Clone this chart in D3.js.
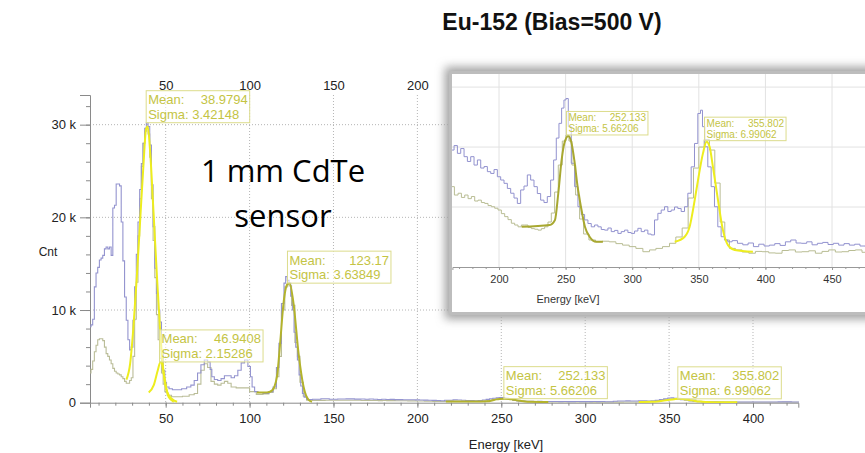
<!DOCTYPE html>
<html>
<head>
<meta charset="utf-8">
<script src="https://cdn.jsdelivr.net/npm/d3@7"></script>
<style>
  body { margin: 0; background: #fff; }
  svg { display: block; }
  text { font-family: "Liberation Sans", Arial, sans-serif; }
</style>
</head>
<body>
<svg width="865" height="453"></svg>
<script>
// spectrum with bias 500 V, [energy keV, counts]
var blueSpectrum = [
  [5, 8200], [6, 8400], [7, 9000], [8, 12500], [9, 14000], [10, 14600], [11, 15400], [12, 15600],
  [13, 15900], [14, 16600], [15, 16800], [16, 16600], [17, 16800], [18, 15900], [19, 21000], [20, 21300],
  [21, 23600], [22, 23600], [23, 23400], [24, 19500], [25, 15300], [26, 11400], [27, 8900], [28, 6800],
  [29, 5700], [30, 6000], [31, 8900], [32, 12500], [33, 16000], [34, 19500], [35, 23000], [36, 25800],
  [37, 28000], [38, 29600], [39, 30200], [40, 29800], [41, 27800], [42, 23500], [43, 19000], [44, 14500],
  [45, 11800], [46, 10000], [47, 8700], [48, 5500], [49, 3500], [50, 2200], [51, 1700], [53, 1500],
  [55, 1400], [58, 1400], [61, 1500], [64, 1700], [66, 1900], [68, 2400], [70, 3200], [72, 4100],
  [74, 4600], [76, 4400], [77, 3600], [78, 2800], [80, 2500], [82, 2400], [84, 2600], [86, 2900],
  [88, 2900], [90, 2700], [92, 2900], [94, 3500], [96, 4300], [98, 4600], [100, 3900], [101, 2800],
  [102, 1700], [104, 1200], [106, 1100], [110, 1000], [113, 1200], [115, 1700], [117, 3800], [118, 6400],
  [120, 10700], [121, 12900], [122, 13600], [123, 13200], [124, 12900], [125, 11500], [126, 10000], [127, 7600],
  [128, 6000], [129, 4600], [130, 3000], [131, 1800], [132, 1000], [133, 600], [135, 350], [140, 380],
  [145, 420], [150, 370], [155, 400], [160, 410], [165, 390], [167.5, 405], [170, 379], [172.5, 395],
  [175, 368], [177.5, 352], [180, 368], [182.5, 340], [185, 357], [187.5, 330], [190, 335], [192.5, 318],
  [195, 312], [197.5, 325], [200, 301], [202.5, 290], [205, 279], [207.5, 262], [210, 246], [212.5, 230],
  [215, 212], [217.5, 257], [220, 270], [222.5, 307], [225, 290], [227.5, 268], [230, 245], [232.5, 223],
  [235, 215], [237.5, 235], [240, 290], [242, 357], [244, 430], [246, 479], [248, 530], [249.5, 557],
  [251, 562], [253, 468], [255.5, 346], [258, 268], [260.5, 201], [263, 175], [265.5, 157], [268, 145],
  [270.5, 134], [273, 140], [275.5, 134], [278, 125], [280.5, 123], [283, 130], [285.5, 118], [288, 122],
  [290.5, 112], [293, 118], [295.5, 123], [298, 115], [300.5, 112], [303, 120], [305.5, 129], [308, 118],
  [310.5, 123], [313, 110], [315.5, 107], [318, 157], [320.5, 179], [323, 190], [325.5, 201], [328, 185],
  [330.5, 190], [333, 200], [335.5, 195], [338, 185], [340.5, 201], [343, 246], [345.5, 334], [348, 412],
  [350.5, 512], [352, 523], [353.5, 468], [355.5, 401], [358, 334], [360.5, 268], [363, 201], [365.5, 134],
  [368, 101], [370.5, 90], [373, 84], [377, 88], [381, 79], [385, 74], [389, 80], [393, 68],
  [397, 76], [401, 70], [405, 73], [409, 78], [413, 72], [417, 84], [421, 90], [425, 80],
  [429, 79], [433, 84], [437, 74], [441, 79], [445, 82], [449, 75], [453, 79], [457, 73],
  [461, 78], [465, 73], [469, 76], [473, 70], [477, 68], [481, 72], [485, 68]
];

// spectrum with bias 500 V, second run, [energy keV, counts]
var greenSpectrum = [
  [5, 3200], [6, 3600], [7, 4500], [8, 5500], [9, 6200], [10, 6800], [11, 6900], [12, 6900],
  [13, 6700], [14, 6000], [15, 5300], [16, 5000], [17, 4600], [18, 4200], [19, 3700], [20, 3400],
  [21, 3200], [22, 3100], [23, 3000], [24, 2800], [25, 2600], [26, 2300], [27, 2100], [28, 2100],
  [29, 2400], [30, 2700], [31, 5000], [32, 9000], [33, 13000], [34, 18000], [35, 22000], [36, 25500],
  [37, 28000], [38, 29300], [39, 29700], [40, 29000], [41, 26500], [42, 22000], [43, 17500], [44, 13500],
  [45, 9500], [46, 6800], [47, 4800], [48, 3200], [49, 2000], [50, 1200], [52, 800], [55, 650],
  [58, 650], [62, 700], [66, 850], [68, 1000], [70, 2000], [72, 3500], [74, 4200], [76, 3800],
  [78, 2300], [80, 2000], [82, 1900], [84, 2100], [86, 2300], [88, 2100], [90, 1700], [94, 1600],
  [98, 1600], [102, 1200], [106, 900], [110, 950], [113, 1100], [115, 1500], [117, 2800], [118, 5000],
  [120, 10000], [122, 12500], [123, 12800], [124, 12600], [126, 10500], [128, 6500], [129, 5000], [131, 2200],
  [133, 700], [135, 280], [140, 250], [150, 260], [160, 265], [165, 268], [168, 240], [170.5, 246],
  [173, 232], [175.5, 240], [178, 228], [180.5, 235], [183, 220], [185.5, 223], [188, 215], [190.5, 212],
  [193, 205], [195.5, 201], [198, 196], [200.5, 190], [203, 178], [205.5, 168], [208, 158], [210.5, 146],
  [213, 140], [215.5, 134], [218, 140], [220.5, 140], [223, 132], [225.5, 128], [228, 126], [230.5, 123],
  [233, 128], [235.5, 134], [238, 150], [240.5, 180], [243, 250], [246, 340], [249, 420], [251.5, 440],
  [253.5, 420], [256, 340], [259, 240], [262, 160], [265, 110], [270, 90], [275, 84], [280, 86],
  [285.5, 84], [290, 78], [295.5, 73], [300, 68], [305.5, 62], [310.5, 51], [315.5, 57], [320, 62],
  [325.5, 68], [330.5, 79], [335, 100], [340, 130], [344, 230], [348, 330], [352, 400], [356, 425],
  [360, 390], [364, 280], [368, 150], [371, 90], [375, 62], [380, 57], [385, 50], [390, 46],
  [395, 52], [400, 51], [405, 47], [410, 46], [415, 55], [420, 57], [425, 50], [430, 51],
  [435, 54], [440, 46], [445, 52], [450, 57], [455, 50], [460, 51], [465, 55], [470, 57],
  [475, 49], [480, 46], [485, 50]
];

// gaussian fits, [energy keV, counts]
var fit1 = [[26.6, 2500], [28.8, 4200], [30.8, 8200], [32.8, 13600], [34.8, 19700], [36.8, 25800], [38.3, 29500], [39.3, 29800],
  [40.8, 26900], [42.8, 20400], [44.8, 13600], [46.8, 7500], [48.8, 3200], [50.8, 1200], [53.8, 400], [56.8, 100]];
var fit2 = [[39.9, 1100], [42.9, 1900], [45.3, 3500], [46.9, 4400], [47.4, 4400], [48.8, 3200], [50.2, 1700], [51.8, 600], [54.8, 100]];
var fit3 = [[104.3, 1100], [110.3, 1100], [113.3, 1300], [116.3, 2800], [118.2, 6400], [120.2, 10700], [122.6, 12800], [123.8, 12900],
  [126.2, 10700], [129.2, 5300], [132.2, 1700], [135.2, 300], [137.2, 100]];
var fit4 = [[217, 134], [238, 140], [242, 157], [244.5, 246], [247, 357], [249, 412], [252, 437], [254.5, 412],
  [256.5, 357], [259, 268], [261.5, 201], [264.5, 134], [268, 101], [273, 84], [278, 84]];
var fit5 = [[331.9, 84], [339.4, 101], [343.1, 134], [346.9, 223], [349.4, 290], [353.1, 379], [355.8, 418], [358.1, 401],
  [360.6, 334], [364.4, 223], [368.1, 123], [371.9, 73], [376.9, 57], [390.6, 51]];

var fitMeans = ['38.9794', '46.9408', '123.17', '252.133', '355.802'];
var fitSigmas = ['3.42148', '2.15286', '3.63849', '5.66206', '6.99062'];
var fitPeaks = [32600, 4400, 12900, 437, 418];

var mainXTicks = [50, 100, 150, 200, 250, 300, 350, 400];
var topXTicks = [50, 100, 150, 200];
var mainYTicks = [0, 10000, 20000, 30000];
var insetXTicks = [200, 250, 300, 350, 400, 450];
var insetYGrid = [200, 400, 600];

var svg = d3.select('svg');
var yellow = '#eded1e';
var olive = '#b3b32c';
var labelColor = '#c4c444';

// ---------- title ----------
svg.append('text')
  .attr('x', 552).attr('y', 30)
  .attr('text-anchor', 'middle')
  .style('font-size', '23px').style('font-weight', 'bold')
  .attr('fill', '#111')
  .text('Eu-152 (Bias=500 V)');

// ---------- main plot ----------
var x = d3.scaleLinear().domain([4.9, 427]).range([90, 798.3]);
var y = d3.scaleLinear().domain([0, 33200]).range([402.7, 95]);

svg.append('defs').append('clipPath').attr('id', 'mainClip')
  .append('rect').attr('x', 90).attr('y', 95).attr('width', 709).attr('height', 308);

// dotted grid
svg.append('g').selectAll('line').data(mainXTicks).join('line')
  .attr('x1', d => x(d)).attr('x2', d => x(d))
  .attr('y1', 95).attr('y2', 402.7)
  .attr('stroke', '#b5b5b5').attr('stroke-dasharray', '1,2');
svg.append('g').selectAll('line').data(mainYTicks.slice(1)).join('line')
  .attr('x1', 90).attr('x2', 798.3)
  .attr('y1', d => y(d)).attr('y2', d => y(d))
  .attr('stroke', '#b5b5b5').attr('stroke-dasharray', '1,2');

// y axis
var yAxis = svg.append('g').attr('transform', 'translate(90,0)')
  .call(d3.axisLeft(y).tickValues(mainYTicks).tickSize(10).tickPadding(4)
    .tickFormat(d => d === 0 ? '0' : (d / 1000) + ' k'));
svg.append('g').attr('transform', 'translate(90,0)')
  .call(d3.axisLeft(y).tickValues(d3.range(2000, 33000, 2000)).tickSize(4).tickFormat(''))
  .select('.domain').remove();

// x axis
var xAxis = svg.append('g').attr('transform', 'translate(0,402.7)')
  .call(d3.axisBottom(x).tickValues(mainXTicks).tickSize(5).tickPadding(6));
svg.append('g').attr('transform', 'translate(0,402.7)')
  .call(d3.axisBottom(x).tickValues(d3.range(10, 427, 10)).tickSize(3).tickFormat(''))
  .select('.domain').remove();

// labels along the top edge
svg.append('g').attr('transform', 'translate(0,90)')
  .call(d3.axisTop(x).tickValues(topXTicks).tickSize(0).tickPadding(0))
  .select('.domain').remove();

svg.selectAll('.tick line').attr('stroke', '#8a8a8a');
svg.selectAll('.domain').attr('stroke', '#8a8a8a');
svg.selectAll('.tick text').style('font-size', '13px').attr('fill', '#222');

svg.append('text').attr('x', 48).attr('y', 256).attr('text-anchor', 'middle')
  .style('font-size', '12px').attr('fill', '#222').text('Cnt');
svg.append('text').attr('x', 506).attr('y', 449).attr('text-anchor', 'middle')
  .style('font-size', '13px').attr('fill', '#222').text('Energy [keV]');

// curves
var mainLine = d3.line().x(d => x(d[0])).y(d => y(d[1]));
var plot = svg.append('g').attr('clip-path', 'url(#mainClip)');
plot.append('path').datum(greenSpectrum).attr('d', mainLine.curve(d3.curveStep))
  .attr('fill', 'none').attr('stroke', '#babd98').attr('stroke-width', 1.1);
plot.append('path').datum(blueSpectrum).attr('d', mainLine.curve(d3.curveStep))
  .attr('fill', 'none').attr('stroke', '#9494cf').attr('stroke-width', 1.1);

var fitLine = d3.line().x(d => x(d[0])).y(d => y(d[1])).curve(d3.curveMonotoneX);
[[fit1, yellow], [fit2, yellow], [fit3, olive], [fit4, olive], [fit5, yellow]].forEach(function (f) {
  plot.append('path').datum(f[0]).attr('d', fitLine)
    .attr('fill', 'none').attr('stroke', f[1]).attr('stroke-width', 2);
});

// fit result boxes, anchored at mean and peak height
function fitBox(g, bx, by, w, h, fs, mean, sigma) {
  var b = g.append('g').attr('transform', 'translate(' + bx + ',' + (by - h) + ')');
  b.append('rect').attr('width', w).attr('height', h)
    .attr('fill', 'rgba(255,255,255,0.55)').attr('stroke', '#dcdc8c').attr('stroke-width', 1);
  b.append('text').attr('x', 2).attr('y', h * 0.42).style('font-size', fs + 'px')
    .attr('fill', labelColor).text('Mean:');
  b.append('text').attr('x', w - 2).attr('y', h * 0.42).attr('text-anchor', 'end')
    .style('font-size', fs + 'px').attr('fill', labelColor).text(mean);
  b.append('text').attr('x', 2).attr('y', h * 0.88).style('font-size', fs + 'px')
    .attr('fill', labelColor).text('Sigma: ' + sigma);
}
var boxes = svg.append('g');
fitMeans.forEach(function (m, i) {
  fitBox(boxes, x(+m) - 1, Math.max(y(fitPeaks[i]), 122.7), 103.5, 32, 13, m, fitSigmas[i]);
});

// big annotation
svg.append('text').attr('x', 283).attr('y', 182).attr('text-anchor', 'middle')
  .style('font-family', '"Open Sans", sans-serif').style('font-size', '31px').attr('fill', '#000')
  .text('1 mm CdTe');
svg.append('text').attr('x', 283).attr('y', 227).attr('text-anchor', 'middle')
  .style('font-family', '"Open Sans", sans-serif').style('font-size', '31px').attr('fill', '#000')
  .text('sensor');

// ---------- inset (zoom on high energy peaks) ----------
var defs = svg.select('defs');
var blur = defs.append('filter').attr('id', 'shadow')
  .attr('x', '-20%').attr('y', '-20%').attr('width', '140%').attr('height', '140%');
blur.append('feGaussianBlur').attr('stdDeviation', 5);
defs.append('clipPath').attr('id', 'insetClip')
  .append('rect').attr('x', 452).attr('y', 74).attr('width', 420).attr('height', 238);

var inset = svg.append('g');
inset.append('rect').attr('x', 445).attr('y', 67).attr('width', 440).attr('height', 252)
  .attr('fill', '#a0a0a0').attr('filter', 'url(#shadow)');
inset.append('rect').attr('x', 449).attr('y', 71).attr('width', 430).attr('height', 244)
  .attr('fill', '#bdbdbd');
inset.append('rect').attr('x', 452).attr('y', 74).attr('width', 420).attr('height', 238)
  .attr('fill', '#fff');

var ix = d3.scaleLinear().domain([165, 490]).range([452.4, 885.3]);
var iy = d3.scaleLinear().domain([0, 647]).range([267, 73]);
var ig = inset.append('g').attr('clip-path', 'url(#insetClip)');

ig.selectAll('.vg').data(insetXTicks).join('line')
  .attr('x1', d => ix(d)).attr('x2', d => ix(d)).attr('y1', 74).attr('y2', 267)
  .attr('stroke', '#e2e2e2');
ig.selectAll('.hg').data(insetYGrid).join('line')
  .attr('x1', 452).attr('x2', 872).attr('y1', d => iy(d)).attr('y2', d => iy(d))
  .attr('stroke', '#e2e2e2');

var ixAxis = ig.append('g').attr('transform', 'translate(0,267)')
  .call(d3.axisBottom(ix).tickValues(insetXTicks).tickSize(3).tickPadding(5));
ig.append('g').attr('transform', 'translate(0,267)')
  .call(d3.axisBottom(ix).tickValues(d3.range(170, 490, 10)).tickSize(2).tickFormat(''))
  .select('.domain').remove();
ig.selectAll('.domain').attr('stroke', '#999');
ig.selectAll('.tick line').attr('stroke', '#999');
ixAxis.selectAll('.tick text').style('font-size', '11px').attr('fill', '#333');

var insetLine = d3.line().x(d => ix(d[0])).y(d => iy(d[1]));
ig.append('path').datum(greenSpectrum.filter(d => d[0] >= 160))
  .attr('d', insetLine.curve(d3.curveStep))
  .attr('fill', 'none').attr('stroke', '#b9bd94').attr('stroke-width', 1);
ig.append('path').datum(blueSpectrum.filter(d => d[0] >= 160))
  .attr('d', insetLine.curve(d3.curveStep))
  .attr('fill', 'none').attr('stroke', '#9292cf').attr('stroke-width', 1);
var insetFit = d3.line().x(d => ix(d[0])).y(d => iy(d[1])).curve(d3.curveMonotoneX);
ig.append('path').datum(fit4).attr('d', insetFit)
  .attr('fill', 'none').attr('stroke', '#a8a830').attr('stroke-width', 2);
ig.append('path').datum(fit5).attr('d', insetFit)
  .attr('fill', 'none').attr('stroke', yellow).attr('stroke-width', 2);

[3, 4].forEach(function (i) {
  fitBox(ig, ix(+fitMeans[i]) - 2, iy(fitPeaks[i]) - 1, 81.5, 23.5, 10, fitMeans[i], fitSigmas[i]);
});

ig.append('text').attr('x', 568).attr('y', 303).attr('text-anchor', 'middle')
  .style('font-size', '11px').attr('fill', '#333').text('Energy [keV]');
</script>
</body>
</html>
